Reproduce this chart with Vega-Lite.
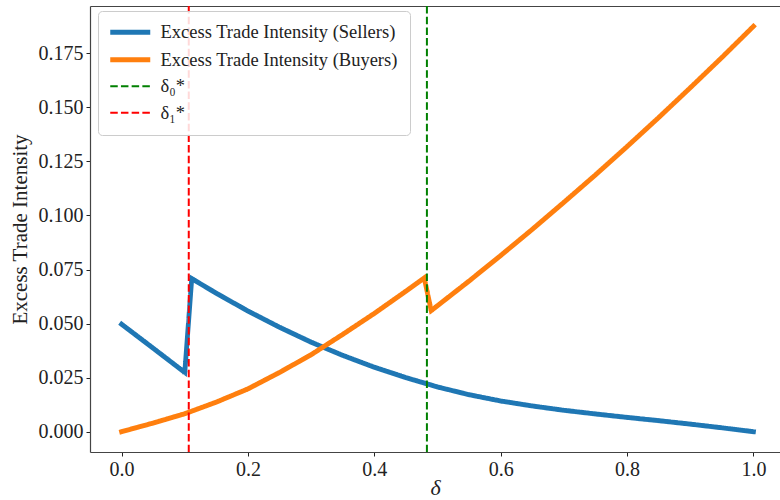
{
  "$schema": "https://vega.github.io/schema/vega-lite/v6.json",
  "width": 690,
  "height": 446,
  "autosize": {"type": "none"},
  "padding": {"left": 90, "top": 6, "right": 0, "bottom": 48},
  "background": "white",
  "config": {
    "view": {"stroke": null},
    "font": "Liberation Serif",
    "axis": {
      "grid": false,
      "domainColor": "#444444",
      "domainWidth": 1.2,
      "tickColor": "#222222",
      "tickSize": 4,
      "labelFont": "Liberation Serif",
      "labelFontSize": 20,
      "labelColor": "#222222",
      "titleFont": "Liberation Serif",
      "titleFontWeight": "normal",
      "titleColor": "#222222"
    }
  },
  "data": {
    "values": [
      {"kind": "curve", "series": "Excess Trade Intensity (Sellers)", "x": 0.0, "y": 0.0497},
      {"kind": "curve", "series": "Excess Trade Intensity (Sellers)", "x": 0.05, "y": 0.0386},
      {"kind": "curve", "series": "Excess Trade Intensity (Sellers)", "x": 0.1, "y": 0.0274},
      {"kind": "curve", "series": "Excess Trade Intensity (Sellers)", "x": 0.111, "y": 0.0708},
      {"kind": "curve", "series": "Excess Trade Intensity (Sellers)", "x": 0.15, "y": 0.064},
      {"kind": "curve", "series": "Excess Trade Intensity (Sellers)", "x": 0.2, "y": 0.0558},
      {"kind": "curve", "series": "Excess Trade Intensity (Sellers)", "x": 0.25, "y": 0.0483},
      {"kind": "curve", "series": "Excess Trade Intensity (Sellers)", "x": 0.3, "y": 0.0414},
      {"kind": "curve", "series": "Excess Trade Intensity (Sellers)", "x": 0.35, "y": 0.0353},
      {"kind": "curve", "series": "Excess Trade Intensity (Sellers)", "x": 0.4, "y": 0.0298},
      {"kind": "curve", "series": "Excess Trade Intensity (Sellers)", "x": 0.45, "y": 0.025},
      {"kind": "curve", "series": "Excess Trade Intensity (Sellers)", "x": 0.5, "y": 0.0207},
      {"kind": "curve", "series": "Excess Trade Intensity (Sellers)", "x": 0.55, "y": 0.0171},
      {"kind": "curve", "series": "Excess Trade Intensity (Sellers)", "x": 0.6, "y": 0.0142},
      {"kind": "curve", "series": "Excess Trade Intensity (Sellers)", "x": 0.65, "y": 0.0119},
      {"kind": "curve", "series": "Excess Trade Intensity (Sellers)", "x": 0.7, "y": 0.0099},
      {"kind": "curve", "series": "Excess Trade Intensity (Sellers)", "x": 0.75, "y": 0.0082},
      {"kind": "curve", "series": "Excess Trade Intensity (Sellers)", "x": 0.8, "y": 0.0066},
      {"kind": "curve", "series": "Excess Trade Intensity (Sellers)", "x": 0.85, "y": 0.0051},
      {"kind": "curve", "series": "Excess Trade Intensity (Sellers)", "x": 0.9, "y": 0.0035},
      {"kind": "curve", "series": "Excess Trade Intensity (Sellers)", "x": 0.95, "y": 0.0018},
      {"kind": "curve", "series": "Excess Trade Intensity (Sellers)", "x": 1.0, "y": 0.0},
      {"kind": "curve", "series": "Excess Trade Intensity (Buyers)", "x": 0.0, "y": 0.0},
      {"kind": "curve", "series": "Excess Trade Intensity (Buyers)", "x": 0.05, "y": 0.004},
      {"kind": "curve", "series": "Excess Trade Intensity (Buyers)", "x": 0.1, "y": 0.0083},
      {"kind": "curve", "series": "Excess Trade Intensity (Buyers)", "x": 0.15, "y": 0.0137},
      {"kind": "curve", "series": "Excess Trade Intensity (Buyers)", "x": 0.2, "y": 0.0198},
      {"kind": "curve", "series": "Excess Trade Intensity (Buyers)", "x": 0.25, "y": 0.0274},
      {"kind": "curve", "series": "Excess Trade Intensity (Buyers)", "x": 0.3, "y": 0.0356},
      {"kind": "curve", "series": "Excess Trade Intensity (Buyers)", "x": 0.35, "y": 0.045},
      {"kind": "curve", "series": "Excess Trade Intensity (Buyers)", "x": 0.4, "y": 0.0547},
      {"kind": "curve", "series": "Excess Trade Intensity (Buyers)", "x": 0.45, "y": 0.065},
      {"kind": "curve", "series": "Excess Trade Intensity (Buyers)", "x": 0.479, "y": 0.0711},
      {"kind": "curve", "series": "Excess Trade Intensity (Buyers)", "x": 0.49, "y": 0.056},
      {"kind": "curve", "series": "Excess Trade Intensity (Buyers)", "x": 0.55, "y": 0.0697},
      {"kind": "curve", "series": "Excess Trade Intensity (Buyers)", "x": 0.6, "y": 0.0815},
      {"kind": "curve", "series": "Excess Trade Intensity (Buyers)", "x": 0.65, "y": 0.0936},
      {"kind": "curve", "series": "Excess Trade Intensity (Buyers)", "x": 0.7, "y": 0.1061},
      {"kind": "curve", "series": "Excess Trade Intensity (Buyers)", "x": 0.75, "y": 0.1188},
      {"kind": "curve", "series": "Excess Trade Intensity (Buyers)", "x": 0.8, "y": 0.1319},
      {"kind": "curve", "series": "Excess Trade Intensity (Buyers)", "x": 0.85, "y": 0.1453},
      {"kind": "curve", "series": "Excess Trade Intensity (Buyers)", "x": 0.9, "y": 0.1591},
      {"kind": "curve", "series": "Excess Trade Intensity (Buyers)", "x": 0.95, "y": 0.1731},
      {"kind": "curve", "series": "Excess Trade Intensity (Buyers)", "x": 1.0, "y": 0.1875},
      {"kind": "vline", "series": "δ₀*", "x": 0.4832},
      {"kind": "vline", "series": "δ₁*", "x": 0.1063}
    ]
  },
  "resolve": {"axis": {"x": "independent"}},
  "layer": [
    {
      "transform": [{"filter": "datum.kind == 'curve'"}],
      "mark": {"type": "line", "strokeCap": "square", "strokeJoin": "miter", "strokeWidth": 4.8},
      "encoding": {
        "x": {
          "field": "x", "type": "quantitative",
          "scale": {"domain": [-0.05, 1.042], "nice": false, "zero": false},
          "axis": {"values": [0, 0.2, 0.4, 0.6, 0.8, 1.0], "format": ".1f", "labelPadding": 3, "title": "δ", "titleFontSize": 22, "titleFontStyle": "italic", "titlePadding": -2}
        },
        "y": {
          "field": "y", "type": "quantitative",
          "scale": {"domain": [-0.0094, 0.1969], "nice": false, "zero": false},
          "axis": {"values": [0, 0.025, 0.05, 0.075, 0.1, 0.125, 0.15, 0.175], "format": ".3f", "labelPadding": 3, "title": "Excess Trade Intensity", "titleFontSize": 21, "titlePadding": 8}
        },
        "color": {
          "field": "series", "type": "nominal",
          "scale": {
            "domain": ["Excess Trade Intensity (Sellers)", "Excess Trade Intensity (Buyers)", "δ₀*", "δ₁*"],
            "range": ["#1f77b4", "#ff7f0e", "#008000", "#ff0000"]
          },
          "legend": {
            "title": null,
            "orient": "none",
            "legendX": 8,
            "legendY": 5,
            "fillColor": "rgba(255,255,255,0.85)",
            "strokeColor": "#cccccc",
            "cornerRadius": 4,
            "padding": 12,
            "labelFontSize": 18.5,
            "labelFont": "Liberation Serif",
            "labelColor": "#222222",
            "labelOffset": 32,
            "symbolType": "M-0.9,0H3.1",
            "symbolSize": 400,
            "rowPadding": 7.5,
            "labelLimit": 400,
            "encode": {"symbols": {"update": {"strokeWidth": {"signal": "datum.value == 'δ₀*' || datum.value == 'δ₁*' ? 2 : 4.8"}}}}
          }
        },
        "strokeDash": {
          "field": "series", "type": "nominal",
          "scale": {
            "domain": ["Excess Trade Intensity (Sellers)", "Excess Trade Intensity (Buyers)", "δ₀*", "δ₁*"],
            "range": [[1, 0], [1, 0], [7.5, 3.2], [7.5, 3.2]]
          },
          "legend": {
            "title": null,
            "orient": "none",
            "legendX": 8,
            "legendY": 5,
            "fillColor": "rgba(255,255,255,0.85)",
            "strokeColor": "#cccccc",
            "cornerRadius": 4,
            "padding": 12,
            "labelFontSize": 18.5,
            "labelFont": "Liberation Serif",
            "labelColor": "#222222",
            "labelOffset": 32,
            "symbolType": "M-0.9,0H3.1",
            "symbolSize": 400,
            "rowPadding": 7.5,
            "labelLimit": 400,
            "encode": {"symbols": {"update": {"strokeWidth": {"signal": "datum.value == 'δ₀*' || datum.value == 'δ₁*' ? 2 : 4.8"}}}}
          }
        }
      }
    },
    {
      "transform": [{"filter": "datum.kind == 'vline'"}],
      "mark": {"type": "rule", "strokeWidth": 2},
      "encoding": {
        "x": {
          "field": "x", "type": "quantitative",
          "axis": {"orient": "top", "labels": false, "ticks": false, "title": null, "domain": true}
        },
        "color": {"field": "series", "type": "nominal"},
        "strokeDash": {"field": "series", "type": "nominal"}
      }
    }
  ]
}
